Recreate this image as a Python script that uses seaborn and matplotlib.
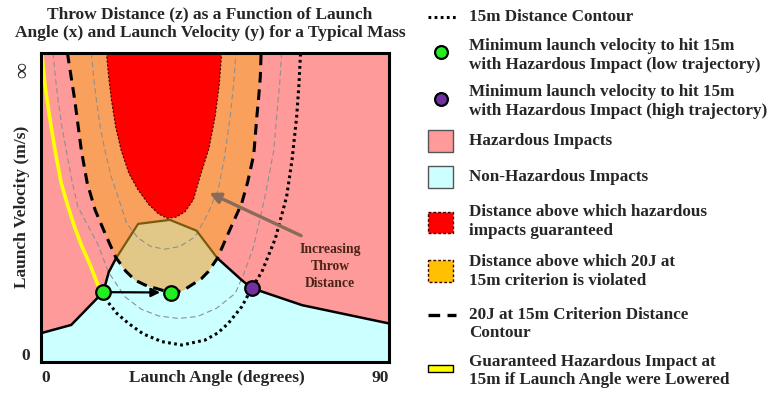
import numpy as np
import matplotlib
matplotlib.use("Agg")
import matplotlib.pyplot as plt
import seaborn as sns
from matplotlib.patches import Rectangle

# --- DATA (launch angle in degrees, launch velocity on a 0..100 "to infinity" scale) ---
# 20J at 15m criterion distance contour (black dashed)
crit_x = [6.9, 8.8, 10.5, 12.0, 14.1, 17.0, 19.4, 22.0, 24.4, 27.0, 29.6, 33.7, 36.8, 39.0, 41.5, 43.3, 45.7, 48.5, 52.0, 53.5, 55.1, 55.9, 56.4, 56.8, 57.0]
crit_y = [100, 84.7, 68.5, 58.0, 49.0, 40.5, 33.8, 29.3, 26.4, 24.8, 23.8, 22.3, 23.0, 24.8, 26.8, 29.1, 33.5, 41.5, 51.3, 58.0, 67.0, 79.3, 86.0, 92.2, 100]

# distance above which hazardous impacts guaranteed (red)
red_x = [17.0, 17.6, 18.3, 19.4, 20.8, 22.8, 25.2, 28.0, 30.5, 32.8, 35.0, 37.3, 39.5, 41.2, 43.5, 45.1, 46.2, 46.8]
red_y = [100, 92.0, 84.7, 76.0, 68.5, 61.0, 55.6, 50.8, 47.8, 46.4, 46.8, 48.5, 52.5, 59.9, 69.0, 79.3, 90.0, 100]

# top of the 20J-violation zone (brown line)
tan_x = [19.5, 25.2, 33.4, 40.3, 45.7]
tan_y = [33.5, 44.6, 45.9, 42.4, 33.5]

# boundary between hazardous and non-hazardous impacts
cyan_left_x = [0, 7.9, 16.2, 17.6, 19.5]
cyan_left_y = [9.2, 11.9, 22.6, 29.0, 33.5]
cyan_right_x = [45.7, 52.0, 54.6, 67.6, 90]
cyan_right_y = [33.5, 26.4, 23.8, 18.3, 12.4]

# 15m distance contour (dotted)
dist15_x = [16.2, 17.5, 19.8, 22.7, 26.5, 31.3, 36.5, 42.5, 45.8, 48.5, 52.0, 54.6, 57.2, 60.7, 63.6, 65.0, 66.2, 66.8, 67.2]
dist15_y = [22.6, 19.1, 15.5, 12.4, 9.0, 6.5, 5.4, 7.0, 9.3, 12.4, 17.8, 23.8, 29.1, 39.9, 53.4, 65.3, 79.3, 90.0, 100]

# intermediate distance contours (thin grey dashed)
inner_x = [13.1, 13.7, 14.4, 15.4, 16.6, 18.2, 20.0, 22.2, 25.2, 28.5, 32.1, 36.0, 39.9, 43.3, 44.7, 45.9, 47.5, 49.0, 49.9, 50.5]
inner_y = [100, 92.0, 84.7, 76.0, 68.5, 60.0, 53.4, 44.8, 40.0, 37.3, 36.4, 37.3, 40.4, 48.0, 52.3, 55.6, 66.0, 79.3, 90.0, 100]
outer_x = [3.2, 3.8, 4.5, 5.5, 6.6, 8.0, 9.6, 12.0, 14.8, 17.5, 21.8, 26.0, 30.5, 35.6, 40.5, 45.5, 50.3, 52.4, 55.0, 58.0, 60.3, 61.0, 61.8, 62.3]
outer_y = [100, 92.0, 84.7, 76.0, 68.5, 59.0, 50.2, 44.5, 38.0, 29.0, 21.0, 17.0, 14.8, 14.0, 14.6, 17.3, 22.1, 28.0, 37.0, 53.4, 68.5, 79.3, 90.0, 100]

# guaranteed hazardous impact if launch angle were lowered (yellow)
yellow_x = [0.3, 1.1, 2.3, 3.7, 5.3, 7.1, 8.6, 10.5, 12.8, 14.8, 16.2]
yellow_y = [100, 89.5, 79.2, 68.5, 57.8, 50.1, 44.2, 37.8, 31.3, 24.8, 22.6]

# minimum launch velocity points
low_x = [16.2, 33.7]
low_y = [22.6, 22.3]
high_x = [54.6]
high_y = [23.8]

legend_labels = [
    "15m Distance Contour",
    "Minimum launch velocity to hit 15m\nwith Hazardous Impact (low trajectory)",
    "Minimum launch velocity to hit 15m\nwith Hazardous Impact (high trajectory)",
    "Hazardous Impacts",
    "Non-Hazardous Impacts",
    "Distance above which hazardous\nimpacts guaranteed",
    "Distance above which 20J at\n15m criterion is violated",
    "20J at 15m Criterion Distance\nContour",
    "Guaranteed Hazardous Impact at\n15m if Launch Angle were Lowered",
]

PINK = "#ff9a9a"
CYAN = "#ccffff"
ORANGE = "#f9a05c"
TAN = "#e1c888"
RED = "#ff0000"
GOLD = "#ffc000"
GREEN = "#22ee22"
PURPLE = "#7030a0"

sns.set_theme(style="white")
plt.rcParams['font.family'] = ['Liberation Serif', 'DejaVu Serif']
plt.rcParams['font.weight'] = 'bold'

W, H = 773, 393
fig = plt.figure(figsize=(W / 100, H / 100), dpi=100)
ax = fig.add_axes([40.7 / W, 1 - 361.7 / H, 348 / W, 309 / H])
ax.set_facecolor(PINK)
ax.set_xlim(0, 90)
ax.set_ylim(0, 100)
ax.set_xticks([])
ax.set_yticks([])
ax.set_xlabel("")
ax.set_ylabel("")

# regions
cx = [0] + cyan_left_x + cyan_right_x + [90]
cy = [0] + cyan_left_y + cyan_right_y + [0]
ax.fill(cx, cy, color=CYAN, lw=0, zorder=1)
ax.fill(crit_x, crit_y, color=ORANGE, lw=0, zorder=2)

cr_x = np.array(crit_x)
cr_y = np.array(crit_y)
inside = (cr_x > tan_x[0]) & (cr_x < tan_x[-1])
poly_x = list(tan_x) + list(cr_x[inside][::-1])
poly_y = list(tan_y) + list(cr_y[inside][::-1])
ax.fill(poly_x, poly_y, color=TAN, lw=0, zorder=3)
ax.fill(red_x, red_y, facecolor=RED, edgecolor="#400000", lw=0.8, linestyle=(0, (2, 1.5)), zorder=3)

def line(x, y, **kw):
    sns.lineplot(x=x, y=y, sort=False, estimator=None, ax=ax, **kw)

line(inner_x, inner_y, color="#8f8f8f", linewidth=0.8, linestyle=(0, (5, 3)), zorder=4)
line(outer_x, outer_y, color="#8f8f8f", linewidth=0.8, linestyle=(0, (5, 3)), zorder=4)
line(tan_x, tan_y, color="#7a5a10", linewidth=1.6, zorder=5)
line(cyan_left_x, cyan_left_y, color="black", linewidth=1.8, zorder=5)
line(cyan_right_x, cyan_right_y, color="black", linewidth=1.8, zorder=5)
line(crit_x, crit_y, color="black", linewidth=2.2, linestyle=(0, (3.5, 2.2)), zorder=6)
line(dist15_x, dist15_y, color="black", linewidth=2.2, linestyle=(0, (0.9, 1.1)), zorder=6)
line(yellow_x, yellow_y, color="#ffff00", linewidth=2.6, zorder=6)

ax.annotate("", xy=(43.0, 55.0), xytext=(68.0, 40.4),
            arrowprops=dict(arrowstyle="-|>", color="#8a6a58", lw=2.4, mutation_scale=16), zorder=7)
ax.annotate("", xy=(31.6, 22.4), xytext=(17.5, 22.5),
            arrowprops=dict(arrowstyle="-|>", color="black", lw=1.6, mutation_scale=13), zorder=7)
ax.text(74.9, 30.7, "Increasing\nThrow\nDistance", ha="center", va="center",
        fontsize=9.8, color="#4a2418", linespacing=1.4, zorder=7)

sns.scatterplot(x=low_x, y=low_y, ax=ax, s=110, color=GREEN, edgecolor="black", linewidth=1.6, zorder=8)
sns.scatterplot(x=high_x, y=high_y, ax=ax, s=110, color=PURPLE, edgecolor="black", linewidth=1.6, zorder=8)

for sp in ax.spines.values():
    sp.set_color("black")
    sp.set_linewidth(2.2)
    sp.set_zorder(10)

# overlay in pixel coordinates for title, labels and legend
lax = fig.add_axes([0, 0, 1, 1])
lax.set_xlim(0, W)
lax.set_ylim(H, 0)
lax.axis("off")

FS = 12.5
LFS = 12.3
lax.text(210, 24, "Throw Distance (z) as a Function of Launch\nAngle (x) and Launch Velocity (y) for a Typical Mass",
         ha="center", va="center", fontsize=FS, linespacing=1.22)
lax.text(22, 207, "Launch Velocity (m/s)", rotation=90, ha="center", va="center", fontsize=FS)
lax.text(23, 70, "\u221e", rotation=90, ha="center", va="center", fontsize=16)
lax.text(26, 356, "0", ha="center", va="center", fontsize=FS)
lax.text(41, 378, "0", ha="left", va="center", fontsize=FS)
lax.text(389, 378, "90", ha="right", va="center", fontsize=FS)
lax.text(217, 378, "Launch Angle (degrees)", ha="center", va="center", fontsize=FS)

# legend, drawn by hand
text_y = [17, 55.5, 101.5, 141, 177, 221.5, 271.5, 324, 371]
lax.plot([428, 457], [17, 17], color="black", lw=2.2, linestyle=(0, (0.9, 1.1)))
lax.scatter([441], [52], s=85, color=GREEN, edgecolor="black", linewidth=1.6, zorder=3)
lax.scatter([441], [99], s=85, color=PURPLE, edgecolor="black", linewidth=1.6, zorder=3)
lax.add_patch(Rectangle((428, 130), 25, 22, facecolor=PINK, edgecolor="#555555", lw=1))
lax.add_patch(Rectangle((428, 166), 25, 22, facecolor=CYAN, edgecolor="#555555", lw=1))
lax.add_patch(Rectangle((428, 212), 25, 21, facecolor=RED, edgecolor="#400000", lw=1, linestyle=(0, (2, 1.5))))
lax.add_patch(Rectangle((428, 260), 25, 22, facecolor=GOLD, edgecolor="#400000", lw=1, linestyle=(0, (2, 1.5))))
lax.plot([428, 456], [315, 315], color="black", lw=2.4, linestyle=(0, (3.5, 2.2)))
lax.add_patch(Rectangle((428, 365), 25, 7, facecolor="#ffff00", edgecolor="black", lw=1))
for y, lab in zip(text_y, legend_labels):
    lax.text(469, y, lab, ha="left", va="center", fontsize=LFS, linespacing=1.2)

fig.savefig("out.png", dpi=100)
